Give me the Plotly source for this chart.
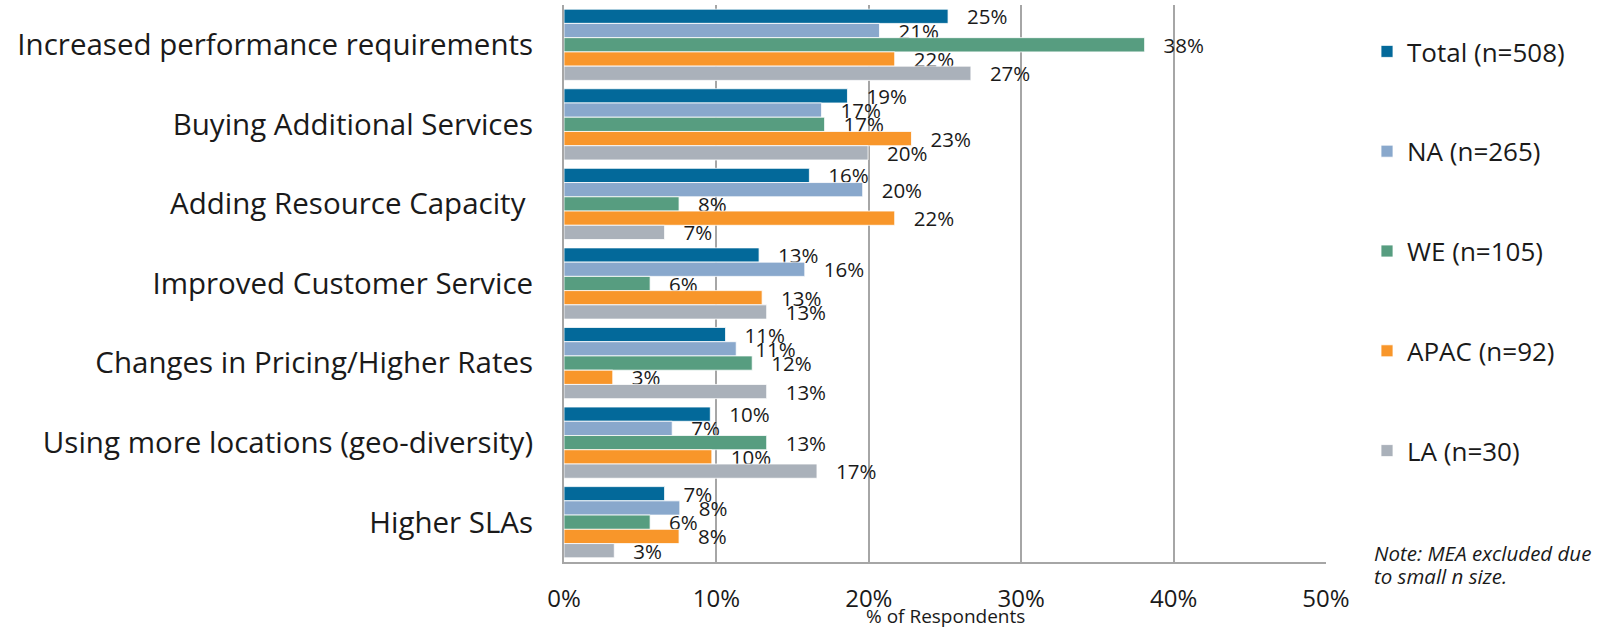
import plotly.graph_objects as go

categories = [
    "Increased performance requirements",
    "Buying Additional Services",
    "Adding Resource Capacity ",
    "Improved Customer Service",
    "Changes in Pricing/Higher Rates",
    "Using more locations (geo-diversity)",
    "Higher SLAs",
]
series_names = ["Total (n=508)", "NA (n=265)", "WE (n=105)", "APAC (n=92)", "LA (n=30)"]
total = [0.252, 0.186, 0.161, 0.128, 0.106, 0.096, 0.066]
na = [0.207, 0.169, 0.196, 0.158, 0.113, 0.071, 0.076]
we = [0.381, 0.171, 0.0755, 0.0565, 0.1235, 0.133, 0.0565]
apac = [0.217, 0.228, 0.217, 0.130, 0.032, 0.097, 0.0755]
la = [0.267, 0.1995, 0.066, 0.133, 0.133, 0.166, 0.033]
series_values = [total, na, we, apac, la]
colors = ["#03699a", "#89a8cc", "#579d80", "#f8962a", "#aab1ba"]
note_lines = ["Note: MEA excluded due", "to small n size."]

FONT = "Open Sans"
W, H = 1601, 630
ml, mr, mt, mb = 564, 275, 5, 68
plot_w = W - ml - mr
plot_h = H - mt - mb


def px_x(p):
    return (p - ml) / plot_w


def px_y(p):
    return (H - mb - p) / plot_h


fig = go.Figure()
for name, vals, col in zip(series_names, series_values, colors):
    fig.add_trace(go.Bar(
        y=categories, x=vals, name=name, orientation="h",
        marker=dict(color=col, line=dict(color="white", width=0.8)),
        text=vals, texttemplate="\u00a0\u00a0\u00a0%{x:.0%}",
        textposition="outside", constraintext="none", cliponaxis=False,
        textfont=dict(family=FONT, size=20.5, color="#1a1a1a"),
        legendgroup=name, hoverinfo="skip",
    ))

annotations = [
    dict(text="% of Respondents", xref="paper", yref="paper",
         x=0.5, y=px_y(616), xanchor="center", yanchor="middle",
         showarrow=False, font=dict(family=FONT, size=19, color="#1a1a1a")),
]
for i, line in enumerate(note_lines):
    annotations.append(dict(
        text="<i>" + line + "</i>", xref="paper", yref="paper",
        x=px_x(1372), y=px_y(553 + 23 * i), xanchor="left", yanchor="middle",
        align="left", showarrow=False,
        font=dict(family=FONT, size=20.5, color="#1a1a1a")))

fig.update_layout(
    width=W, height=H,
    margin=dict(l=ml, r=mr, t=mt, b=mb, pad=0, autoexpand=False),
    paper_bgcolor="white", plot_bgcolor="white",
    barmode="group", bargap=0.105, bargroupgap=0,
    font=dict(family=FONT, color="#1a1a1a"),
    showlegend=True,
    legend=dict(
        x=px_x(1367), y=px_y(28),
        xanchor="left", yanchor="top",
        traceorder="grouped", tracegroupgap=63,
        font=dict(family=FONT, size=26, color="#1a1a1a"),
        bgcolor="rgba(0,0,0,0)",
    ),
    xaxis=dict(
        range=[0, 0.5], dtick=0.1, tickformat=".0%",
        showgrid=True, gridcolor="#a6a6a6", gridwidth=2,
        showline=True, linecolor="#a6a6a6", linewidth=2,
        zeroline=False, ticks="", ticklabelstandoff=14,
        tickfont=dict(family=FONT, size=24, color="#1a1a1a"),
    ),
    yaxis=dict(
        autorange="reversed", showgrid=False,
        showline=True, linecolor="#a6a6a6", linewidth=2,
        ticks="", ticklabelstandoff=23,
        tickfont=dict(family=FONT, size=29.5, color="#1a1a1a"),
    ),
    annotations=annotations,
)

fig.write_html(
    "out.html",
    config={"displayModeBar": False, "staticPlot": True},
    post_script="document.body.style.margin='0';document.body.style.overflow='hidden';",
)
